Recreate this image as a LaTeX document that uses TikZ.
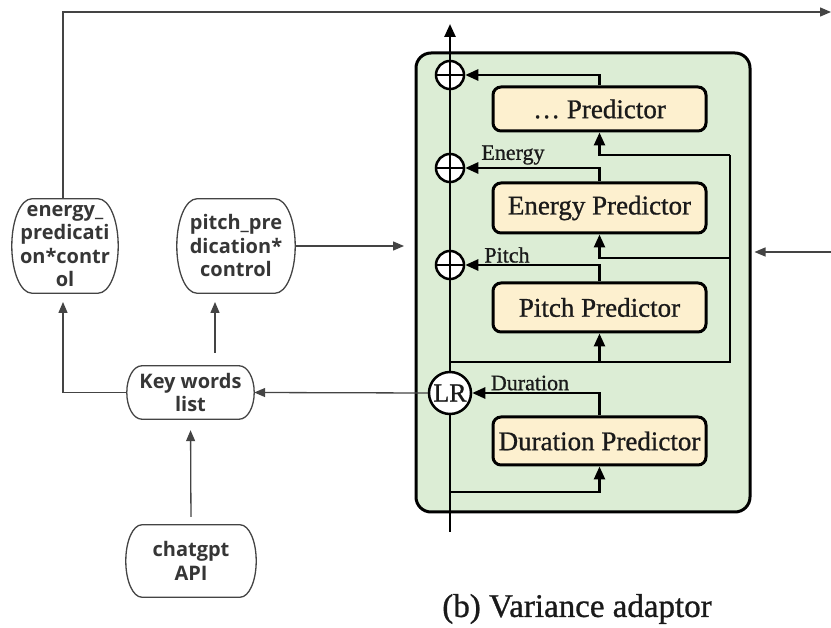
\documentclass[tikz,border=0pt]{standalone}
\usepackage{fontspec}
\setmainfont{Liberation Serif}[FakeBold=0.9]
\newfontfamily\boxsans{Open Sans}
\usetikzlibrary{arrows.meta,calc}

\definecolor{linegray}{HTML}{444444}
\definecolor{textgray}{HTML}{363636}
\definecolor{adaptgreen}{HTML}{DCEDD5}
\definecolor{predcream}{HTML}{FDF0CF}
\definecolor{inkdark}{HTML}{1A1A1A}

% Outline with elliptical corners around a (borderless) rectangular node:
% #1 node name, #2 horizontal corner radius, #3 vertical corner radius
\newcommand\ovalframe[3]{%
  \draw[boxline] ([xshift=#2]#1.north west) -- ([xshift=-#2]#1.north east)
    .. controls ([xshift=-0.448*#2]#1.north east) and ([yshift=-0.448*#3]#1.north east)
    .. ([yshift=-#3]#1.north east) -- ([yshift=#3]#1.south east)
    .. controls ([yshift=0.448*#3]#1.south east) and ([xshift=-0.448*#2]#1.south east)
    .. ([xshift=-#2]#1.south east) -- ([xshift=#2]#1.south west)
    .. controls ([xshift=0.448*#2]#1.south west) and ([yshift=0.448*#3]#1.south west)
    .. ([yshift=#3]#1.south west) -- ([yshift=-#3]#1.north west)
    .. controls ([yshift=-0.448*#3]#1.north west) and ([xshift=0.448*#2]#1.north west)
    .. ([xshift=#2]#1.north west) -- cycle;}

\begin{document}
\begin{tikzpicture}[x=1pt,y=-1pt,
  flowbox/.style={align=center, text=textgray, inner sep=0pt,
    font=\boxsans\bfseries\fontsize{20}{23.5}\selectfont},
  boxline/.style={draw=linegray, line width=1.3pt},
  thinarrow/.style={draw=linegray, line width=1.3pt,
    -{Triangle[length=11pt,width=9pt]}},
  predbox/.style={draw=black, line width=3pt, fill=predcream, rounded corners=8pt,
    minimum width=213pt, inner sep=0pt, text=inkdark,
    font=\fontsize{27}{30}\selectfont},
  sumnode/.style={circle, draw=black, line width=2.5pt, fill=white,
    minimum size=28pt, inner sep=0pt},
  flow/.style={draw=black, line width=2.5pt},
  flowarrow/.style={draw=black, line width=2.5pt,
    -{Triangle[length=13pt,width=11pt]}},
  flowlabel/.style={text=inkdark, inner sep=0pt, font=\fontsize{22}{24}\selectfont}
]
\useasboundingbox (0,0) rectangle (831,628);

% ---- variance adaptor frame ----
\node[draw=black, line width=3pt, fill=adaptgreen, rounded corners=15pt,
  minimum width=334pt, minimum height=459pt, inner sep=0pt] (adaptor) at (583,282.5) {};

% ---- predictors ----
\node[predbox, minimum height=44pt] (dotspred) at (599.5,109) {\ldots\ Predictor};
\node[predbox, minimum height=50pt] (energypred) at (599.5,208) {Energy Predictor};
\node[predbox, minimum height=49pt] (pitchpred) at (599.5,307.5) {Pitch Predictor};
\node[predbox, minimum height=48pt] (durpred) at (599.5,441) {Duration Predictor};

% ---- main signal path ----
\coordinate (mainbot) at (450,532);
\coordinate (maintop) at (450,24);
\node[circle, draw=black, line width=2.5pt, fill=white, minimum size=42pt,
  inner sep=0pt, font=\fontsize{26}{28}\selectfont, text=inkdark] (lr) at (450,393) {LR};
\draw[flow] (mainbot) -- (lr.south);
\draw[flowarrow] (lr.north) -- (maintop);

\node[sumnode] (sumpitch) at (450,265) {};
\node[sumnode] (sumenergy) at (450,168) {};
\node[sumnode] (sumdots) at (450,75) {};
\foreach \s in {sumpitch,sumenergy,sumdots}{
  \draw[line width=2.5pt] (\s.north) -- (\s.south);
  \draw[line width=2.5pt] (\s.west) -- (\s.east);
}

% ---- predictor inputs ----
\coordinate (durin) at (450,492);
\coordinate (tapin) at (450,362);
\coordinate (tapright) at (730,362);
\coordinate (energyin) at (730,258);
\coordinate (dotsin) at (730,155);
\draw[flowarrow] (durin) -| (durpred.south);
\draw[flowarrow] (tapin) -| (pitchpred.south);
\draw[flow] (tapin) -- (tapright) -- (dotsin);
\draw[flowarrow] (energyin) -| (energypred.south);
\draw[flowarrow] (dotsin) -| (dotspred.south);

% ---- predictor outputs ----
\draw[flowarrow] (durpred.north) |- (lr.east);
\draw[flowarrow] (pitchpred.north) |- (sumpitch.east);
\draw[flowarrow] (energypred.north) |- (sumenergy.east);
\draw[flowarrow] (dotspred.north) |- (sumdots.east);

\node[flowlabel] (lbldur) at (530,383) {Duration};
\node[flowlabel] (lblpitch) at (507,255) {Pitch};
\node[flowlabel] (lblenergy) at (513,155) {Energy};

\node[text=inkdark, font=\fontsize{33}{35}\selectfont] (caption) at (577,609) {(b) Variance adaptor};

% ---- keyword control flow ----
\node[flowbox, minimum width=106pt, minimum height=94pt] (energyctl) at (65,246)
  {energy\_\\predicati\\on*contr\\ol};
\node[flowbox, minimum width=118pt, minimum height=94pt] (pitchctl) at (236,246)
  {pitch\_pre\\dication*\\control};
\node[flowbox, minimum width=127pt, minimum height=53pt] (keywords) at (190.5,392.5)
  {Key words\\list};
\node[flowbox, minimum width=130pt, minimum height=72pt] (chatapi) at (191,561)
  {chatgpt\\API};
\ovalframe{energyctl}{20pt}{47pt}
\ovalframe{pitchctl}{20pt}{47pt}
\ovalframe{keywords}{15pt}{26.5pt}
\ovalframe{chatapi}{16pt}{36pt}

\coordinate (topout) at (831,12);
\coordinate (adaptin) at (404,246);
\coordinate (rightsrc) at (831,252);
\coordinate (kwtap) at (215,366);
\coordinate (energyentry) at (63,302);

\draw[thinarrow] (energyctl.north -| energyentry) |- (topout);
\draw[thinarrow] (pitchctl.east) -- (adaptin);
\draw[thinarrow] (rightsrc) -- ($(adaptor.east |- rightsrc)+(3,0)$);
\draw[thinarrow] (lr.west) -- (keywords.east);
\draw[thinarrow] (keywords.west) -| (energyentry);
\draw[thinarrow, shorten <=13pt] (kwtap) -- (kwtap |- energyentry);
\draw[thinarrow, shorten <=8pt, shorten >=11pt] (chatapi.north) -- (keywords.south);
\end{tikzpicture}
\end{document}
